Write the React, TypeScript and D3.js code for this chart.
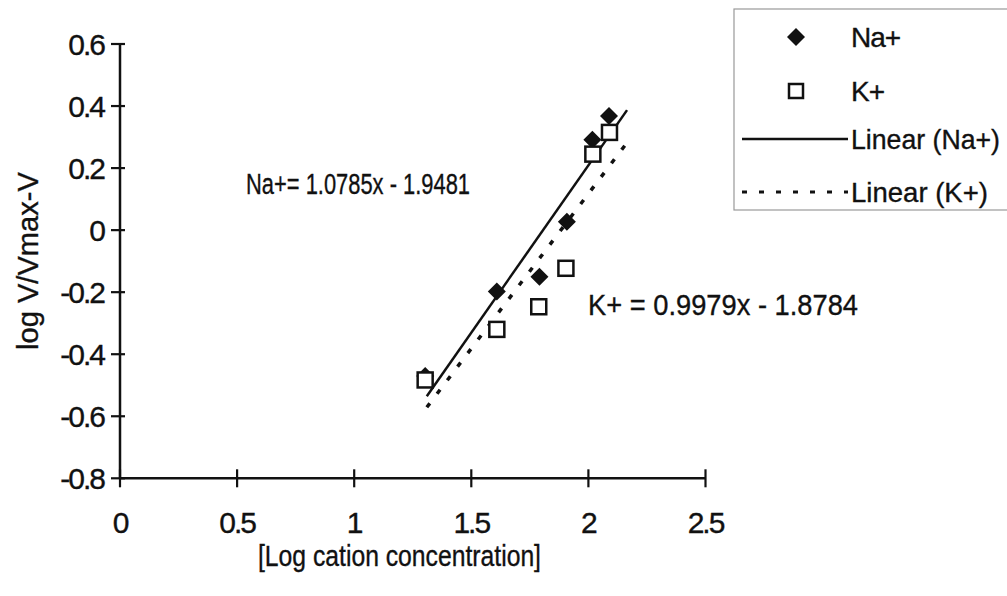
import React from "react";
import * as d3 from "d3";

const xTicks = [0, 0.5, 1, 1.5, 2, 2.5];
const xTickLabels = ["0", "0.5", "1", "1.5", "2", "2.5"];
const yTicks = [-0.8, -0.6, -0.4, -0.2, 0, 0.2, 0.4, 0.6];
const yTickLabels = ["-0.8", "-0.6", "-0.4", "-0.2", "0", "0.2", "0.4", "0.6"];

const naX = [1.303, 1.609, 1.791, 1.908, 2.017, 2.088];
const naY = [-0.47, -0.198, -0.15, 0.027, 0.291, 0.368];
const kX = [1.303, 1.609, 1.788, 1.904, 2.019, 2.09];
const kY = [-0.483, -0.32, -0.247, -0.123, 0.245, 0.315];

const naFit = [1.0785, -1.9481];
const kFit = [0.9979, -1.8784];
const fitRange = [1.31, 2.165];

const naEquation = "Na+= 1.0785x - 1.9481";
const kEquation = "K+ = 0.9979x - 1.8784";
const legendLabels = ["Na+", "K+", "Linear (Na+)", "Linear (K+)"];
const xTitle = "[Log cation concentration]";
const yTitle = "log V/Vmax-V";

const FONT = "'Liberation Sans', Arial, Helvetica, sans-serif";

export default function App() {
  const W = 1007;
  const H = 596;
  const x = d3.scaleLinear().domain([0, 2.5]).range([120, 705.5]);
  const y = d3.scaleLinear().domain([-0.8, 0.6]).range([478.3, 44]);

  const naPts = naX.map((v, i) => [v, naY[i]]);
  const kPts = kX.map((v, i) => [v, kY[i]]);

  const fitLine = (c: number[]) =>
    d3
      .line<number>()
      .x((d) => x(d))
      .y((d) => y(c[0] * d + c[1]))(fitRange) as string;

  const diamond = (cx: number, cy: number, r: number) =>
    `M${cx},${cy - r}L${cx + r},${cy}L${cx},${cy + r}L${cx - r},${cy}Z`;

  const x0 = x(0);
  const yb = y(-0.8);
  const ink = "#111";
  const txt = { fill: ink, stroke: ink, strokeWidth: 0.35 };

  return (
    <svg
      width={W}
      height={H}
      style={{ position: "absolute", left: 0, top: 0, background: "#fff" }}
      fontFamily={FONT}
    >
      <rect x={0} y={0} width={W} height={H} fill="#fff" />
      {/* axes */}
      <line x1={x0} x2={x0} y1={y(0.6)} y2={yb} stroke={ink} strokeWidth={2.5} />
      <line x1={x0} x2={x(2.5)} y1={yb} y2={yb} stroke={ink} strokeWidth={2.5} />
      {yTicks.map((t, i) => (
        <g key={"yt" + i}>
          <line x1={x0 - 9} x2={x0 + 5} y1={y(t)} y2={y(t)} stroke={ink} strokeWidth={2.2} />
          <text
            x={104}
            y={y(t)}
            dy="0.36em"
            textAnchor="end"
            fontSize={30}
            letterSpacing={-2}
            {...txt}
          >
            {yTickLabels[i]}
          </text>
        </g>
      ))}
      {xTicks.map((t, i) => (
        <g key={"xt" + i}>
          <line x1={x(t)} x2={x(t)} y1={yb - 9} y2={yb + 9} stroke={ink} strokeWidth={2.2} />
          <text
            x={x(t)}
            y={533}
            textAnchor="middle"
            fontSize={30}
            letterSpacing={-2}
            {...txt}
          >
            {xTickLabels[i]}
          </text>
        </g>
      ))}
      <text
        x={258}
        y={566}
        fontSize={29}
        textLength={283}
        lengthAdjust="spacingAndGlyphs"
        {...txt}
      >
        {xTitle}
      </text>
      <text
        transform={`translate(38,261) rotate(-90)`}
        textAnchor="middle"
        fontSize={29}
        textLength={178}
        lengthAdjust="spacingAndGlyphs"
        {...txt}
      >
        {yTitle}
      </text>

      {/* trend lines */}
      <path d={fitLine(naFit)} stroke={ink} strokeWidth={2.5} fill="none" />
      <path
        d={fitLine(kFit)}
        stroke={ink}
        strokeWidth={3.5}
        strokeDasharray="5 12"
        fill="none"
      />

      {/* Na+ diamonds */}
      {naPts.map((p, i) => (
        <path key={"na" + i} d={diamond(x(p[0]), y(p[1]), 9)} fill={ink} />
      ))}
      {/* K+ squares */}
      {kPts.map((p, i) => (
        <rect
          key={"k" + i}
          x={x(p[0]) - 7.5}
          y={y(p[1]) - 7.5}
          width={15}
          height={15}
          fill="#fff"
          stroke={ink}
          strokeWidth={2.5}
        />
      ))}

      {/* equations */}
      <text
        x={246}
        y={194}
        fontSize={29}
        textLength={224}
        lengthAdjust="spacingAndGlyphs"
        {...txt}
      >
        {naEquation}
      </text>
      <text
        x={588}
        y={315}
        fontSize={30}
        textLength={270}
        lengthAdjust="spacingAndGlyphs"
        {...txt}
      >
        {kEquation}
      </text>

      {/* legend */}
      <rect x={734} y={9} width={290} height={201} fill="#fff" stroke="#999" strokeWidth={1.2} />
      <path d={diamond(796, 37, 9)} fill={ink} />
      <text x={851} y={37} dy="0.36em" fontSize={28} letterSpacing={-1} {...txt}>
        {legendLabels[0]}
      </text>
      <rect x={789} y={84} width={14} height={14} fill="#fff" stroke={ink} strokeWidth={2.5} />
      <text x={851} y={91} dy="0.36em" fontSize={28} letterSpacing={-1} {...txt}>
        {legendLabels[1]}
      </text>
      <line x1={742} x2={848} y1={139} y2={139} stroke={ink} strokeWidth={2.5} />
      <text
        x={851}
        y={139}
        dy="0.36em"
        fontSize={28}
        textLength={149}
        lengthAdjust="spacingAndGlyphs"
        {...txt}
      >
        {legendLabels[2]}
      </text>
      <line
        x1={742}
        x2={848}
        y1={192}
        y2={192}
        stroke={ink}
        strokeWidth={3}
        strokeDasharray="5 12"
      />
      <text
        x={851}
        y={192}
        dy="0.36em"
        fontSize={28}
        textLength={137}
        lengthAdjust="spacingAndGlyphs"
        {...txt}
      >
        {legendLabels[3]}
      </text>
    </svg>
  );
}
